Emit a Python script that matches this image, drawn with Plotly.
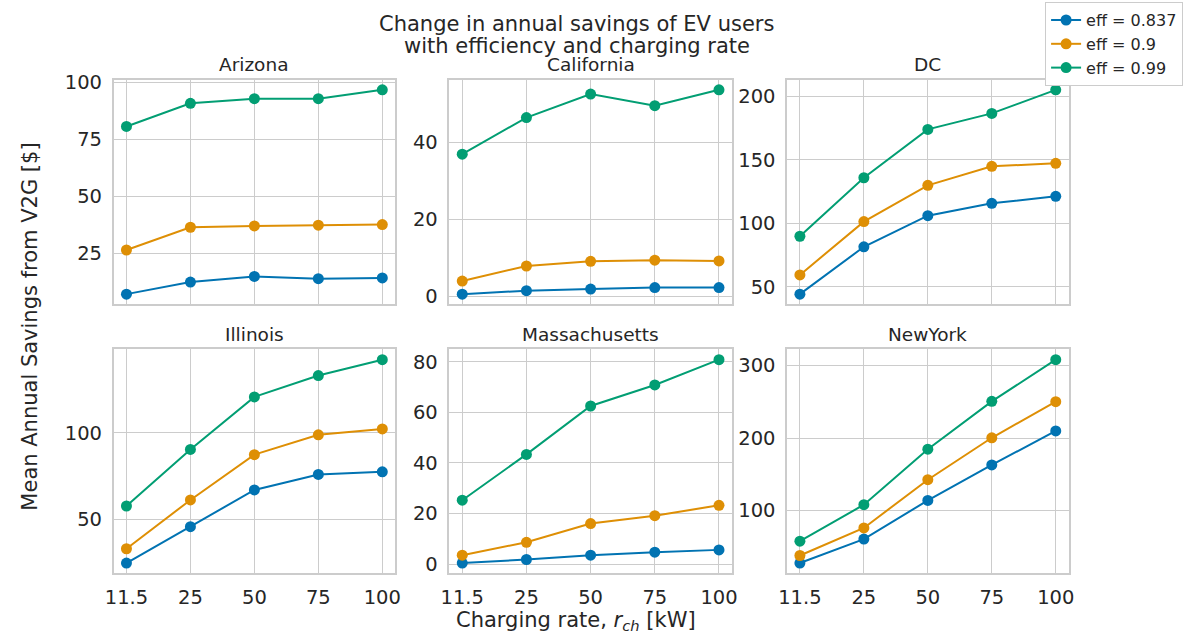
"""Annual V2G savings vs charging rate, by state and round-trip efficiency."""
import plotly.graph_objects as go

# ── Data ─────────────────────────────────────────────────────────────────────
RATES = ['11.5', '25', '50', '75', '100']
STATES = ['Arizona', 'California', 'DC', 'Illinois', 'Massachusetts', 'NewYork']
EFF_LABELS = ['eff = 0.837', 'eff = 0.9', 'eff = 0.99']

arizona_837 = [7.0, 12.3, 14.8, 13.8, 14.1]
arizona_90 = [26.4, 36.4, 37.0, 37.3, 37.6]
arizona_99 = [80.7, 90.9, 92.9, 92.9, 96.8]

california_837 = [0.6, 1.5, 1.9, 2.3, 2.3]
california_90 = [4.0, 7.9, 9.1, 9.4, 9.2]
california_99 = [36.9, 46.4, 52.5, 49.5, 53.6]

dc_837 = [44.3, 81.5, 106.0, 115.7, 121.2]
dc_90 = [59.4, 101.3, 129.8, 144.8, 147.1]
dc_99 = [89.8, 135.8, 173.8, 186.4, 204.9]

illinois_837 = [24.5, 45.6, 66.9, 75.9, 77.4]
illinois_90 = [32.8, 61.1, 87.4, 98.9, 102.3]
illinois_99 = [57.6, 90.4, 120.9, 133.3, 142.5]

mass_837 = [0.5, 1.9, 3.6, 4.8, 5.7]
mass_90 = [3.6, 8.7, 16.1, 19.2, 23.3]
mass_99 = [25.3, 43.4, 62.5, 70.8, 80.8]

newyork_837 = [27.7, 60.7, 114.1, 163.0, 209.9]
newyork_90 = [38.1, 76.1, 142.6, 200.4, 250.2]
newyork_99 = [57.9, 108.1, 184.7, 250.6, 308.1]

SERIES = [
    [arizona_837, arizona_90, arizona_99],
    [california_837, california_90, california_99],
    [dc_837, dc_90, dc_99],
    [illinois_837, illinois_90, illinois_99],
    [mass_837, mass_90, mass_99],
    [newyork_837, newyork_90, newyork_99],
]
Y_DTICK = [25, 20, 50, 50, 20, 100]
TITLE_LINES = ['Change in annual savings of EV users', 'with efficiency and charging rate']

# ── Style ────────────────────────────────────────────────────────────────────
COLORS = ['#0173b2', '#de8f05', '#029e73']
FONT = 'DejaVu Sans'
TEXT = '#262626'
GRID = '#cccccc'
W, H = 1196, 641

# panel boxes in pixels (left, right, top, bottom)
COL_PX = [(106, 391), (446, 732), (788, 1073)]
ROW_PX = [(73, 302), (348, 576)]

fig = go.Figure()
annotations = []

for i, state in enumerate(STATES):
    r, c = divmod(i, 3)
    n = i + 1
    xa = 'x' if n == 1 else f'x{n}'
    ya = 'y' if n == 1 else f'y{n}'
    for j, vals in enumerate(SERIES[i]):
        fig.add_trace(go.Scatter(
            x=RATES, y=vals,
            mode='lines+markers',
            name=EFF_LABELS[j],
            legendgroup=EFF_LABELS[j],
            showlegend=(i == 0),
            line=dict(color=COLORS[j], width=2),
            marker=dict(color=COLORS[j], size=11),
            xaxis=xa, yaxis=ya,
        ))

    allv = [v for s in SERIES[i] for v in s]
    lo, hi = min(allv), max(allv)
    pad = 0.05 * (hi - lo)

    l, rr = COL_PX[c]
    t, b = ROW_PX[r]
    axis_common = dict(
        showgrid=True, gridcolor=GRID, gridwidth=1,
        showline=True, linecolor=GRID, linewidth=1.5, mirror=True,
        zeroline=False, ticks='',
        tickfont=dict(family=FONT, size=19.5, color=TEXT),
    )
    fig.layout[f'xaxis{n if n > 1 else ""}'] = dict(
        **axis_common,
        domain=[l / W, rr / W],
        anchor=ya,
        type='category',
        range=[-0.2, 4.2],
        showticklabels=(r == 1),
        ticklabelstandoff=6,
    )
    fig.layout[f'yaxis{n if n > 1 else ""}'] = dict(
        **axis_common,
        domain=[1 - b / H, 1 - t / H],
        anchor=xa,
        range=[lo - pad, hi + pad],
        dtick=Y_DTICK[i],
        tick0=0,
        ticklabelstandoff=6,
    )
    annotations.append(dict(
        text=state, x=(l + rr) / 2 / W, y=1 - (t - 3) / H,
        xref='paper', yref='paper', xanchor='center', yanchor='bottom',
        showarrow=False, font=dict(family=FONT, size=18.5, color=TEXT),
    ))

# suptitle, two lines placed separately for tighter spacing
for line, ypx in zip(TITLE_LINES, [16, 39]):
    annotations.append(dict(
        text=line, x=575 / W, y=1 - ypx / H, xref='paper', yref='paper',
        xanchor='center', yanchor='middle', showarrow=False,
        font=dict(family=FONT, size=21, color=TEXT)))

annotations += [
    dict(text='Mean Annual Savings from V2G [$]',
         x=21 / W, y=1 - 325 / H, xref='paper', yref='paper',
         xanchor='center', yanchor='middle', textangle=-90, showarrow=False,
         font=dict(family=FONT, size=21, color=TEXT)),
    dict(text='Charging rate, <i>r<sub>ch</sub></i> [kW]',
         x=574 / W, y=1 - 625 / H, xref='paper', yref='paper',
         xanchor='center', yanchor='middle', showarrow=False,
         font=dict(family=FONT, size=21, color=TEXT)),
]

fig.update_layout(
    width=W, height=H,
    paper_bgcolor='white', plot_bgcolor='white',
    margin=dict(l=0, r=0, t=0, b=0),
    font=dict(family=FONT, color=TEXT),
    annotations=annotations,
    legend=dict(
        x=1189 / W, y=1 + 6 / H, xanchor='right', yanchor='top',
        bgcolor='white', bordercolor=GRID, borderwidth=1,
        font=dict(family=FONT, size=16, color=TEXT),
        tracegroupgap=0, itemwidth=30,
    ),
)

# page body has a default margin; drop it so the figure sits at the window origin
fig.write_html('out.html', config={'displayModeBar': False},
               post_script="document.body.style.margin = '0';")
